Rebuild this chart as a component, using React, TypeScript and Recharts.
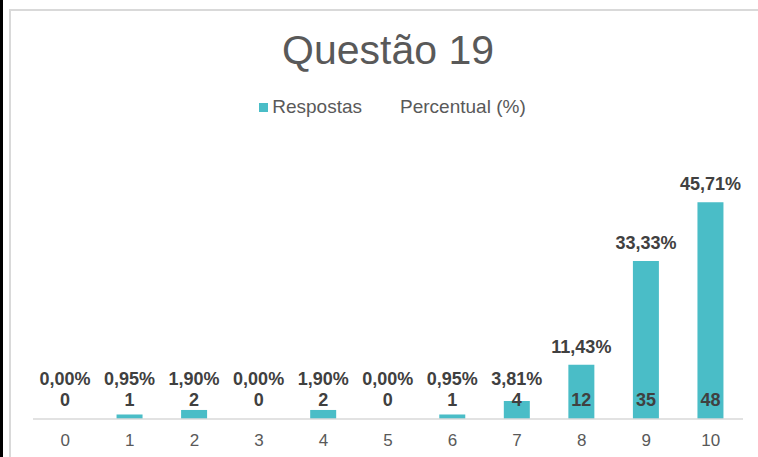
import { ComposedChart, Bar, Line, XAxis, YAxis, Legend, LabelList } from 'recharts';

const categorias = ['0', '1', '2', '3', '4', '5', '6', '7', '8', '9', '10'];
const respostas = [0, 1, 2, 0, 2, 0, 1, 4, 12, 35, 48];
const percentual = [0, 0.95, 1.9, 0, 1.9, 0, 0.95, 3.81, 11.43, 33.33, 45.71];

const data = categorias.map((nota, i) => ({
  nota,
  respostas: respostas[i],
  percentual: percentual[i],
}));

const FONT = '"Liberation Sans", Arial, sans-serif';
const TEAL = '#4abdc7';

const CountLabel = (props: any) => {
  const { x, y, width, height, value } = props;
  const cx = Number(x) + Number(width) / 2;
  const base = Number(y) + Number(height);
  return (
    <text x={cx} y={base - 19} textAnchor="middle" dominantBaseline="central"
      fontFamily={FONT} fontSize={18} fontWeight="bold" fill="#404040">
      {value}
    </text>
  );
};

const PctLabel = (props: any) => {
  const { x, y, width, height, value } = props;
  const cx = Number(x) + Number(width) / 2;
  const base = Number(y) + Number(height);
  const cy = Math.min(Number(y) - 18, base - 40);
  return (
    <text x={cx} y={cy} textAnchor="middle" dominantBaseline="central"
      fontFamily={FONT} fontSize={18} fontWeight="bold" fill="#404040">
      {Number(value).toFixed(2).replace('.', ',')}%
    </text>
  );
};

const LegendContent = (props: any) => {
  const items = [...(props.payload || [])].sort((a: any, b: any) =>
    (a.type === 'square' ? 0 : 1) - (b.type === 'square' ? 0 : 1));
  return (
    <div style={{ display: 'flex', justifyContent: 'center', gap: 38, fontFamily: FONT, fontSize: 19, color: '#595959', height: 20, alignItems: 'center', paddingLeft: 9 }}>
      {items.map((entry: any) => (
        <span key={entry.value} style={{ display: 'flex', alignItems: 'center', gap: 4 }}>
          {entry.type === 'square' ? (
            <span style={{ width: 9, height: 9, background: TEAL, display: 'inline-block' }} />
          ) : null}
          {entry.value}
        </span>
      ))}
    </div>
  );
};

export default function App() {
  return (
    <div style={{ position: 'fixed', left: 0, top: 0, width: 758, height: 457, background: '#fff', overflow: 'hidden' }}>
      <div style={{ position: 'absolute', left: 0, top: 0, width: 3, height: 457, background: '#000' }} />
      <div style={{ position: 'absolute', left: 9, top: 9, width: 800, height: 500, border: '2px solid #d9d9d9', boxSizing: 'border-box' }} />
      <div style={{ position: 'absolute', left: 0, top: 30, width: 776, textAlign: 'center', fontFamily: FONT, fontSize: 41, lineHeight: '41px', color: '#595959' }}>
        Questão 19
      </div>
      <div style={{ position: 'absolute', left: 0, top: 0 }}>
        <ComposedChart width={758} height={457} data={data} margin={{ top: 128, right: 15, bottom: 0, left: 33 }}>
          <XAxis
            dataKey="nota"
            height={38}
            tickLine={false}
            tickMargin={9}
            axisLine={{ stroke: '#d9d9d9', strokeWidth: 1.5 }}
            tick={{ fontFamily: FONT, fontSize: 17, fill: '#595959' }}
          />
          <YAxis yAxisId="resp" hide domain={[0, 60]} />
          <YAxis yAxisId="pct" hide domain={[0, 100]} orientation="right" />
          <Legend verticalAlign="top" content={<LegendContent />} wrapperStyle={{ top: 97 }} />
          <Bar
            yAxisId="resp"
            dataKey="respostas"
            name="Respostas"
            fill={TEAL}
            barSize={26}
            legendType="square"
            minPointSize={(v: number) => (v === 0 ? 0.01 : 0)}
            isAnimationActive={false}
          >
            <LabelList dataKey="respostas" content={<CountLabel />} />
            <LabelList dataKey="percentual" content={<PctLabel />} />
          </Bar>
          <Line yAxisId="pct" dataKey="percentual" name="Percentual (%)" stroke="none" dot={false} activeDot={false} legendType="plainline" isAnimationActive={false} />
        </ComposedChart>
      </div>
    </div>
  );
}
